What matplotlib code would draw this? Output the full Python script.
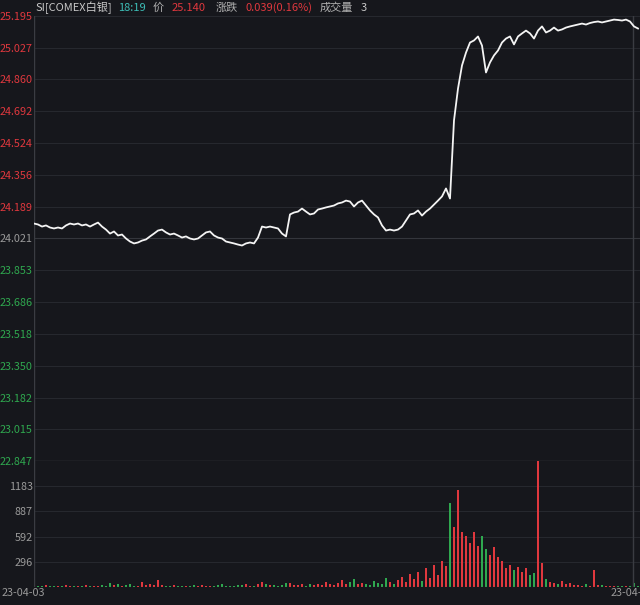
import matplotlib
matplotlib.use("Agg")
import matplotlib.pyplot as plt
import numpy as np

plt.rcParams['font.family'] = ['Noto Sans CJK SC', 'DejaVu Sans']

# ---------------- data ----------------
prev_close = 24.021
price_ticks = [25.195, 25.027, 24.860, 24.692, 24.524, 24.356, 24.189, 24.021,
               23.853, 23.686, 23.518, 23.350, 23.182, 23.015, 22.847]
volume_ticks = [296, 592, 887, 1183]
volume_max = 1478.75
date_left = "23-04-03"
date_right = "23-04-04"
day_break_index = 150

prices = [
    24.100, 24.095, 24.084, 24.090, 24.079, 24.074, 24.079, 24.074, 24.090, 24.100,
    24.095, 24.100, 24.090, 24.095, 24.084, 24.095, 24.105, 24.084, 24.068, 24.047,
    24.058, 24.037, 24.042, 24.021, 24.005, 23.995, 24.000, 24.010, 24.016, 24.032,
    24.047, 24.063, 24.068, 24.053, 24.042, 24.047, 24.037, 24.026, 24.032, 24.021,
    24.016, 24.021, 24.037, 24.053, 24.058, 24.037, 24.026, 24.021, 24.005, 24.000,
    23.995, 23.989, 23.984, 23.995, 24.000, 23.995, 24.026, 24.084, 24.079, 24.084,
    24.079, 24.074, 24.047, 24.032, 24.148, 24.158, 24.163, 24.179, 24.163, 24.148,
    24.153, 24.174, 24.179, 24.185, 24.190, 24.195, 24.206, 24.211, 24.221, 24.216,
    24.190, 24.211, 24.221, 24.195, 24.169, 24.148, 24.132, 24.090, 24.063, 24.068,
    24.063, 24.068, 24.084, 24.116, 24.148, 24.153, 24.169, 24.142, 24.163, 24.179,
    24.200, 24.221, 24.243, 24.285, 24.232, 24.644, 24.812, 24.934, 25.002, 25.055,
    25.066, 25.087, 25.039, 24.897, 24.950, 24.987, 25.013, 25.055, 25.076, 25.087,
    25.045, 25.087, 25.103, 25.118, 25.103, 25.076, 25.118, 25.140, 25.108, 25.118,
    25.134, 25.118, 25.124, 25.134, 25.140, 25.145, 25.150, 25.155, 25.150, 25.158,
    25.163, 25.166, 25.161, 25.166, 25.171, 25.176, 25.174, 25.171, 25.176, 25.166,
    25.140, 25.129,
]

volumes = [
    15, 8, 12, 20, 10, 6, 14, 9, 18, 12, 7, 16, 10, 22, 12, 9,
    14, 20, 12, 45, 18, 30, 10, 25, 40, 15, 12, 60, 20, 35, 18,
    80, 25, 15, 12, 20, 10, 14, 8, 12, 18, 10, 22, 15, 9, 12, 20, 30, 12, 10, 15,
    18, 25, 40, 15, 12, 35, 60, 30, 20, 25, 15, 18, 45,
    50, 25, 20, 30, 15, 40, 25, 30, 20, 55, 35, 25, 45, 80, 30, 60, 90, 40, 50, 35,
    25, 70, 45, 30, 110, 60, 40,
    80, 120, 60, 150, 90, 180, 70, 220, 100, 260, 140, 300, 250, 980,
    700, 1136, 650, 600, 520, 640, 480, 600, 450, 380, 470, 350, 300, 220, 260, 200,
    240, 180, 220, 140, 160, 1479, 280, 90, 60, 50, 40, 70, 30, 45, 25,
    20, 15, 30, 12, 200, 18, 25, 15, 10, 12, 8, 14, 10, 12, 50, 10,
]

header_items = [
    ("SI[COMEX白银]", "#c8c8c8"), ("18:19", "#3dbdb6"), ("价", "#b0b0b0"),
    ("25.140", "#e0383e"), ("涨跌", "#b0b0b0"), ("0.039(0.16%)", "#e0383e"),
    ("成交量", "#b0b0b0"), ("3", "#c8c8c8"),
]

# ---------------- style ----------------
BG = "#16171c"
GRID = "#26282e"
RED = "#e0383e"
GREEN = "#2fa84f"
GRAY = "#9a9a9a"
W, H = 640, 605

fig = plt.figure(figsize=(W / 100, H / 100), dpi=100, facecolor=BG)

left = 34 / W
ax = fig.add_axes([left, (H - 461) / H, 1 - left, (461 - 16) / H], facecolor=BG)
axv = fig.add_axes([left, (H - 587) / H, 1 - left, (587 - 461) / H], facecolor=BG)

n = len(prices)
x = np.arange(n)

for a in (ax, axv):
    a.set_xlim(0, 151.5)
    for s in a.spines.values():
        s.set_visible(False)
    a.set_xticks([])
    a.tick_params(axis='y', length=0, pad=1, labelsize=7.8)

# price panel
ax.set_ylim(price_ticks[-1], price_ticks[0])
ax.set_yticks(price_ticks)
ax.set_yticklabels([f"{t:.3f}" for t in price_ticks])
for t, lab in zip(price_ticks, ax.get_yticklabels()):
    if t > prev_close + 1e-9:
        lab.set_color(RED)
    elif t < prev_close - 1e-9:
        lab.set_color(GREEN)
    else:
        lab.set_color(GRAY)
for t in price_ticks:
    ax.axhline(t, color="#34363c" if abs(t - prev_close) < 1e-9 else GRID, lw=0.8, zorder=0)
ax.plot(x, prices, color="#f4f4f4", lw=1.3, zorder=3)

# volume panel
axv.set_ylim(0, volume_max)
axv.set_yticks(volume_ticks)
axv.set_yticklabels([str(v) for v in volume_ticks], color=GRAY)
for t in volume_ticks:
    axv.axhline(t, color=GRID, lw=0.8, zorder=0)
diffs = np.diff(np.array(prices), prepend=prices[0])
colors = [RED if d > 0 else (GREEN if d < 0 else "#e6e6e6") for d in diffs]
axv.bar(x, volumes, width=0.5, color=colors, zorder=2)

# separators
for a in (ax, axv):
    a.axvline(0, color="#3a3c42", lw=1.0)
    a.axvline(day_break_index - 0.25, color="#3a3c42", lw=1.0)
ax.axhline(price_ticks[-1], color="#3a3c42", lw=1.0)
axv.axhline(0, color="#2a2c32", lw=0.8)

# header
xs = [35, 118, 153, 172, 216, 245, 320, 361]
for (txt, c), px in zip(header_items, xs):
    fig.text(px / W, 1 - 8 / H, txt, color=c, fontsize=8, va="center", ha="left")

# dates
fig.text(2 / W, 1 - 593 / H, date_left, color=GRAY, fontsize=7.8, va="center", ha="left")
fig.text(611 / W, 1 - 593 / H, date_right, color=GRAY, fontsize=7.8, va="center", ha="left")

fig.savefig("out.png", dpi=100, facecolor=BG)
